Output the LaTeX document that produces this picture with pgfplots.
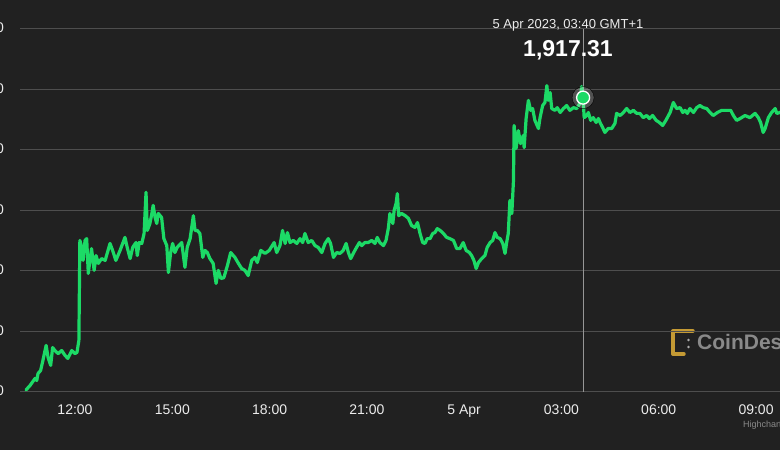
\documentclass[border=0pt]{standalone}
\usepackage{pgfplots}
\pgfplotsset{compat=1.18}
\usepackage{pgfplotstable}
\usepackage{fontspec}
\setmainfont{Liberation Sans}
\pgfdeclarelayer{background}
\pgfsetlayers{background,main}
\definecolor{bg}{RGB}{33,33,33}
\definecolor{gridc}{RGB}{78,78,78}
\definecolor{lineg}{RGB}{28,218,102}
\definecolor{txt}{RGB}{236,236,236}
\definecolor{cross}{RGB}{150,150,150}
\definecolor{gold}{RGB}{196,154,52}
\definecolor{logogray}{RGB}{138,138,138}
% hours since 4 Apr 2023 00:00 (GMT+1), ETH price (USD)
\pgfplotstableread{
h v
10.49 1820.7
10.61 1822.1
10.77 1824.5
10.82 1823.8
10.86 1826.1
10.94 1827.1
11.01 1830.4
11.11 1835.4
11.17 1831.4
11.25 1828.8
11.31 1834.7
11.38 1833.7
11.48 1832.7
11.59 1833.7
11.69 1832.1
11.78 1831.1
11.90 1833.7
12.00 1832.7
12.06 1833.1
12.12 1837.0
12.15 1870.1
12.21 1867.8
12.25 1863.5
12.31 1870.1
12.36 1870.7
12.41 1859.2
12.46 1863.5
12.51 1867.4
12.59 1860.2
12.65 1865.1
12.72 1862.5
12.82 1864.1
12.93 1863.5
13.00 1866.1
13.08 1869.1
13.16 1866.8
13.26 1863.5
13.39 1866.8
13.54 1871.1
13.61 1867.8
13.70 1864.1
13.78 1867.8
13.88 1869.4
13.92 1865.1
13.98 1869.4
14.06 1869.1
14.13 1872.4
14.19 1886.0
14.23 1873.4
14.31 1875.7
14.37 1879.0
14.41 1881.7
14.47 1877.7
14.52 1875.7
14.57 1879.0
14.67 1877.7
14.74 1870.7
14.83 1868.4
14.88 1859.5
14.95 1866.1
15.01 1869.1
15.08 1866.1
15.15 1867.8
15.29 1869.4
15.39 1861.2
15.46 1867.8
15.55 1870.7
15.65 1878.3
15.70 1873.4
15.77 1873.4
15.85 1872.4
15.94 1864.5
16.01 1866.8
16.08 1866.1
16.16 1864.1
16.26 1862.5
16.35 1855.9
16.42 1860.2
16.50 1857.5
16.59 1857.8
16.70 1861.8
16.80 1866.1
16.93 1864.5
17.04 1862.5
17.14 1860.8
17.24 1860.2
17.34 1858.5
17.45 1863.5
17.55 1864.5
17.62 1862.8
17.73 1866.8
17.86 1865.8
17.99 1866.8
18.14 1869.4
18.22 1866.1
18.32 1868.4
18.40 1873.4
18.48 1869.1
18.55 1872.7
18.63 1869.4
18.73 1870.1
18.84 1869.1
18.94 1870.7
19.02 1869.4
19.09 1872.4
19.19 1869.4
19.30 1870.1
19.40 1868.4
19.50 1867.8
19.61 1866.1
19.71 1869.1
19.81 1870.7
19.88 1869.1
19.97 1864.5
20.07 1866.1
20.17 1865.8
20.27 1866.8
20.36 1869.1
20.43 1866.1
20.50 1864.1
20.58 1865.8
20.66 1867.4
20.77 1869.4
20.84 1868.4
20.94 1869.4
21.04 1869.4
21.15 1870.1
21.25 1869.1
21.32 1871.1
21.40 1869.4
21.51 1868.4
21.59 1870.1
21.66 1874.0
21.71 1879.0
21.80 1875.7
21.84 1880.0
21.90 1882.3
21.94 1885.6
21.98 1878.3
22.07 1879.0
22.18 1878.3
22.28 1877.4
22.38 1875.0
22.48 1874.4
22.56 1876.0
22.64 1872.4
22.72 1869.4
22.79 1869.1
22.86 1870.7
22.95 1870.7
23.03 1872.4
23.10 1872.7
23.17 1874.0
23.26 1873.4
23.36 1872.4
23.46 1871.1
23.56 1870.7
23.67 1870.1
23.77 1867.4
23.87 1867.4
23.97 1869.4
24.06 1866.8
24.16 1866.1
24.23 1865.1
24.30 1863.5
24.37 1860.8
24.44 1862.8
24.54 1864.1
24.64 1865.1
24.71 1867.8
24.80 1869.4
24.88 1870.1
24.95 1872.7
25.02 1871.1
25.11 1870.7
25.19 1869.1
25.26 1865.8
25.31 1869.4
25.36 1872.4
25.41 1883.3
25.47 1879.0
25.52 1889.9
25.54 1908.1
25.60 1900.5
25.67 1906.4
25.74 1902.1
25.82 1904.8
25.85 1900.8
25.91 1910.4
25.98 1916.4
26.05 1913.1
26.11 1913.7
26.18 1909.8
26.29 1907.1
26.34 1910.7
26.42 1914.7
26.49 1915.7
26.55 1921.3
26.59 1916.4
26.65 1919.0
26.70 1913.7
26.80 1913.1
26.87 1914.0
26.96 1912.4
27.06 1913.7
27.16 1914.7
27.26 1913.1
27.37 1914.0
27.47 1913.7
27.57 1915.4
27.62 1921.0
27.667 1917.31
27.70 1910.7
27.78 1911.4
27.83 1912.4
27.90 1909.8
27.98 1910.7
28.07 1909.1
28.14 1910.4
28.19 1909.1
28.27 1907.4
28.34 1905.8
28.44 1907.1
28.55 1907.1
28.65 1908.8
28.70 1912.1
28.81 1911.4
28.91 1912.4
29.01 1913.7
29.11 1912.4
29.22 1913.1
29.32 1912.1
29.42 1912.1
29.52 1910.7
29.63 1911.4
29.71 1910.4
29.81 1911.4
29.92 1909.8
30.02 1909.1
30.12 1908.1
30.22 1909.8
30.35 1912.4
30.45 1915.7
30.55 1913.7
30.66 1914.0
30.74 1912.4
30.81 1913.1
30.88 1912.1
30.96 1913.7
31.07 1912.4
31.17 1914.0
31.27 1914.7
31.37 1914.0
31.48 1913.7
31.58 1912.4
31.68 1911.4
31.81 1912.4
31.94 1913.1
32.10 1913.1
32.22 1913.1
32.30 1911.4
32.40 1909.8
32.51 1910.4
32.66 1911.4
32.81 1910.7
32.97 1912.1
33.07 1910.7
33.14 1909.1
33.22 1905.8
33.28 1907.1
33.38 1910.7
33.48 1912.4
33.59 1913.7
33.64 1912.1
33.74 1912.4
33.83 1913.1
}\pricedata
\begin{document}
\begin{tikzpicture}[x=1bp,y=1bp]
\begin{axis}[
  x=32.43bp, y=3.025bp,
  xmin=10.304, xmax=33.86, ymin=1820, ymax=1945,
  axis line style={draw=none},
  tick style={draw=none},
  ymajorgrids=true,
  grid style={gridc, line width=1bp},
  xtick={12,15,18,21,24,27,30,33},
  xticklabels={12:00,15:00,18:00,21:00,5 Apr,03:00,06:00,09:00},
  ytick={1820,1840,1860,1880,1900,1920,1940},
  yticklabels={{1,820},{1,840},{1,860},{1,880},{1,900},{1,920},{1,940}},
  ticklabel style={text=txt, font=\fontsize{14bp}{16bp}\selectfont},
  xticklabel style={inner sep=0pt, anchor=north, yshift=-13bp},
  yticklabel style={inner sep=0pt, anchor=east, xshift=-16bp},
  /pgf/number format/assume math mode=true,
]
\coordinate (O) at (rel axis cs:0,0);
\addplot[cross, line width=1bp] coordinates {(27.667,1820) (27.667,1940)};
\addplot[lineg, line width=3.2bp, line join=round, line cap=round, mark=none] table[x=h, y=v] {\pricedata};
\addplot[only marks, mark=*, mark size=11bp, mark options={draw=none, fill=white, fill opacity=0.22}] coordinates {(27.667,1917.31)};
\addplot[only marks, mark=*, mark size=6.5bp, mark options={draw=white, line width=1.3bp, fill=lineg}] coordinates {(27.667,1917.31)};
\end{axis}
\begin{scope}[shift={(O)}, xshift=-20bp, yshift=-58bp]
\begin{pgfonlayer}{background}
\fill[bg] (0,0) rectangle (780,450);
% CoinDesk watermark
\draw[gold, line width=3.4bp, line join=round, line cap=round] (693,119) -- (673,119) -- (673,96) -- (684,96);
\fill[logogray!70] (688.5,110) circle (1.3bp) (688.5,103) circle (1.3bp);
\node[anchor=west, text=logogray, inner sep=0pt, font=\bfseries\fontsize{21bp}{24bp}\selectfont] at (697,108) {CoinDesk};
\end{pgfonlayer}
\node[anchor=west, text=logogray, inner sep=0pt, font=\fontsize{9bp}{10bp}\selectfont] at (743,25) {Highcharts.com};
\node[text=txt, font=\fontsize{13bp}{15bp}\selectfont] at (568,424.5) {5 Apr 2023, 03:40 GMT+1};
\node[text=white, font=\bfseries\fontsize{23bp}{26bp}\selectfont] at (568,400) {1,917.31};
\pgfresetboundingbox
\path[use as bounding box] (0,0) rectangle (780,450);
\end{scope}
\end{tikzpicture}
\end{document}
